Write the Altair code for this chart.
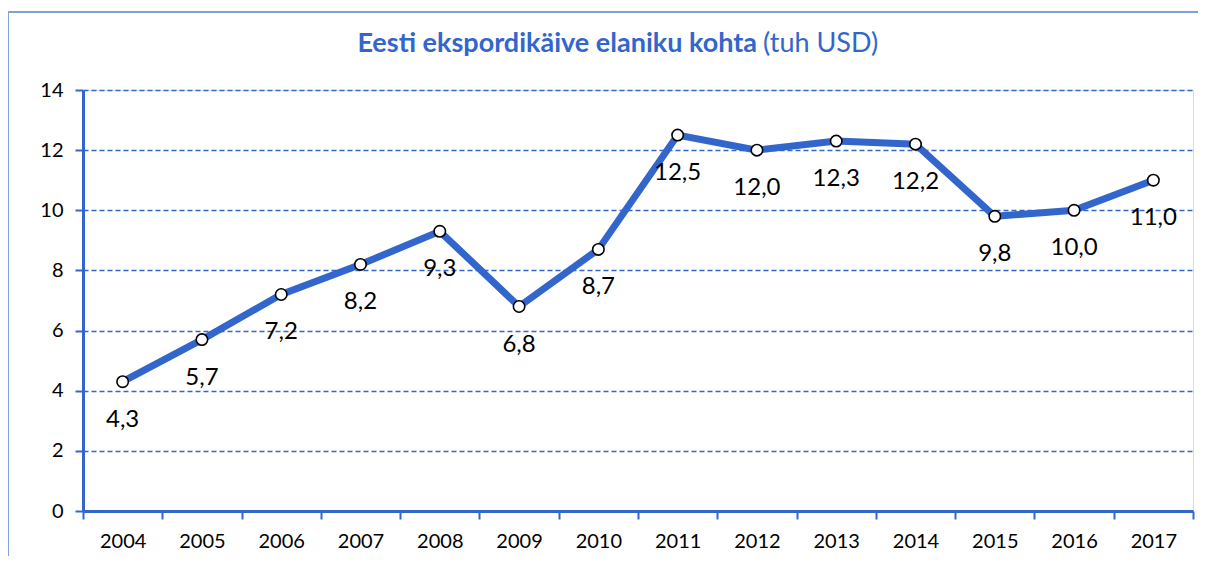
import altair as alt
import pandas as pd

years = ["2004", "2005", "2006", "2007", "2008", "2009", "2010",
         "2011", "2012", "2013", "2014", "2015", "2016", "2017"]
values = [4.3, 5.7, 7.2, 8.2, 9.3, 6.8, 8.7, 12.5, 12.0, 12.3, 12.2, 9.8, 10.0, 11.0]
labels = ["4,3", "5,7", "7,2", "8,2", "9,3", "6,8", "8,7",
          "12,5", "12,0", "12,3", "12,2", "9,8", "10,0", "11,0"]
title_bold = "Eesti ekspordikäive elaniku kohta"
title_unit = "(tuh USD)"

df = pd.DataFrame({"year": years, "value": values, "label": labels})

BLUE = "#3366CC"
FONT = "Lato"

x = alt.X("year:N", sort=years, title=None,
          scale=alt.Scale(paddingInner=0, paddingOuter=0),
          axis=alt.Axis(labelAngle=0, labelFontSize=20, labelColor="#000000",
                        labelFont=FONT, labelPadding=12, tickColor=BLUE,
                        tickWidth=2, tickSize=8, tickBand="extent",
                        domainColor=BLUE, domainWidth=3, grid=False))
y = alt.Y("value:Q", title=None,
          scale=alt.Scale(domain=[0, 14], nice=False),
          axis=alt.Axis(values=[0, 2, 4, 6, 8, 10, 12, 14], labelFontSize=20,
                        labelColor="#000000", labelFont=FONT, labelPadding=12,
                        tickColor=BLUE, tickWidth=2, tickSize=8,
                        domainColor=BLUE, domainWidth=3,
                        grid=True, gridColor=BLUE, gridDash=[5, 3], gridWidth=1.5))

base = alt.Chart(df)

line = base.mark_line(color=BLUE, strokeWidth=7).encode(x=x, y=y)
points = base.mark_point(shape="circle", filled=True, fill="white", stroke="black",
                         strokeWidth=1.6, size=130, opacity=1).encode(x=x, y=y)
text = base.mark_text(fontSize=24, font=FONT, color="black", dy=38).encode(
    x=x, y=y, text="label:N")

tdf = pd.DataFrame({"a": [title_bold], "b": [title_unit]})
t1 = alt.Chart(tdf).mark_text(fontSize=27, font=FONT, fontWeight="bold", color=BLUE,
                              align="right", baseline="middle").encode(
    x=alt.value(674), y=alt.value(-46), text="a:N")
t2 = alt.Chart(tdf).mark_text(fontSize=27, font=FONT, color=BLUE,
                              align="left", baseline="middle").encode(
    x=alt.value(680), y=alt.value(-46), text="b:N")

frame_top = alt.Chart(tdf).mark_rule(color="#7FA3D6", strokeWidth=2).encode(
    x=alt.value(-75), x2=alt.value(1135), y=alt.value(-78))
frame_left = alt.Chart(tdf).mark_rule(color="#7FA3D6", strokeWidth=2).encode(
    x=alt.value(-75), y=alt.value(-78), y2=alt.value(500))

chart = alt.layer(frame_top, frame_left, line, points, text, t1, t2).properties(
    width=1110, height=421,
    autosize=alt.AutoSizeParams(type="none"),
    padding={"left": 75, "top": 82, "right": 5, "bottom": 45},
).configure_view(stroke=BLUE, strokeWidth=2.5).configure(background="white")

chart.save("out.html", embed_options={"renderer": "svg", "actions": False})
